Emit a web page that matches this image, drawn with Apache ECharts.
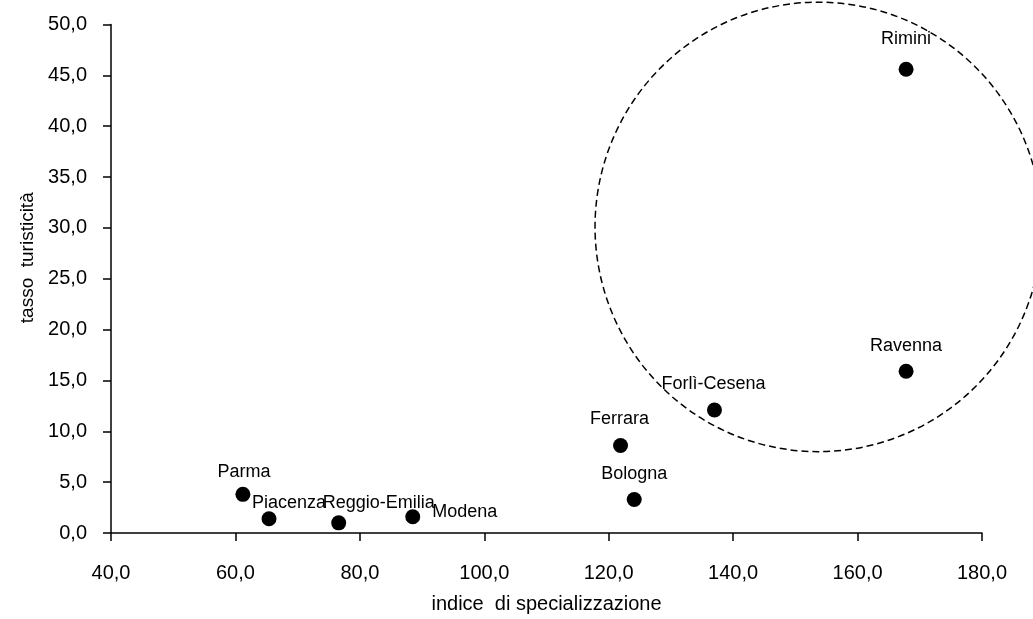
<!DOCTYPE html>
<html>
<head>
<meta charset="utf-8">
<script src="https://cdn.jsdelivr.net/npm/echarts@6/dist/echarts.min.js"></script>
<style>
html,body{margin:0;padding:0;background:#fff;}
#chart{width:1033px;height:619px;}
</style>
</head>
<body>
<div id="chart"></div>
<script>
// ---- data ----
const provinces = ['Parma','Piacenza','Reggio-Emilia','Modena','Ferrara','Bologna','Forlì-Cesena','Ravenna','Rimini'];
const specializationIndex = [61.2, 65.4, 76.6, 88.5, 121.9, 124.1, 137.0, 167.8, 167.8];
const tourismRate = [3.8, 1.4, 1.0, 1.6, 8.6, 3.3, 12.1, 15.9, 45.6];
// highlighted cluster (dashed ellipse): centre and half-axes in data units
const clusterCenter = [153.7, 30.1];
const clusterRadii = [35.9, 22.1];
const xTitle = 'indice  di specializzazione';
const yTitle = 'tasso  turisticità';

// ---- styles ----
const FONT = "'Liberation Sans',Arial,sans-serif";
const labelOffsets = {
  'Parma': [1, -22],
  'Piacenza': [20, -16],
  'Reggio-Emilia': [40, -20],
  'Modena': [52, -5],
  'Ferrara': [-1, -27],
  'Bologna': [0, -25],
  'Forlì-Cesena': [-1, -26],
  'Ravenna': [0, -25],
  'Rimini': [0, -30]
};

const points = provinces.map((n, i) => ({
  name: n,
  value: [specializationIndex[i], tourismRate[i]],
  label: { offset: labelOffsets[n] }
}));

const fmt = v => v.toFixed(1).replace('.', ',');

const chart = echarts.init(document.getElementById('chart'), null, {renderer: 'canvas'});
chart.setOption({
  backgroundColor: '#fff',
  animation: false,
  grid: { left: 111, right: 51, top: 24.5, bottom: 83, containLabel: false },
  xAxis: {
    type: 'value', min: 40, max: 180, interval: 20,
    name: xTitle, nameLocation: 'middle', nameGap: 61,
    nameTextStyle: { fontFamily: FONT, fontSize: 20, color: '#000' },
    axisLine: { show: true, onZero: false, lineStyle: { color: '#000', width: 1.5 } },
    axisTick: { show: true, inside: false, length: 8, lineStyle: { color: '#000', width: 1.5 } },
    axisLabel: { fontFamily: FONT, fontSize: 20, color: '#000', margin: 30, formatter: fmt },
    splitLine: { show: false }
  },
  yAxis: {
    type: 'value', min: 0, max: 50, interval: 5,
    name: yTitle, nameLocation: 'middle', nameGap: 69, nameRotate: 90,
    nameTextStyle: { fontFamily: FONT, fontSize: 19, color: '#000', padding: [0, 0, 0, 42] },
    axisLine: { show: true, onZero: false, lineStyle: { color: '#000', width: 1.5 } },
    axisTick: { show: true, inside: false, length: 8, lineStyle: { color: '#000', width: 1.5 } },
    axisLabel: { fontFamily: FONT, fontSize: 20, color: '#000', margin: 24, formatter: fmt },
    splitLine: { show: false }
  },
  series: [
    {
      type: 'custom',
      clip: false,
      silent: true,
      z: 1,
      data: [clusterCenter],
      encode: { x: 0, y: 1 },
      renderItem: function (params, api) {
        const c = api.coord([clusterCenter[0], clusterCenter[1]]);
        const s = api.size([clusterRadii[0], clusterRadii[1]]);
        return {
          type: 'circle',
          x: c[0], y: c[1],
          scaleX: s[0] / s[1],
          shape: { cx: 0, cy: 0, r: s[1] },
          style: { fill: 'none', stroke: '#000', lineWidth: 1.5, lineDash: [7, 4] }
        };
      }
    },
    {
      type: 'scatter',
      z: 3,
      symbol: 'circle',
      symbolSize: 15,
      itemStyle: { color: '#000', opacity: 1 },
      label: {
        show: true,
        position: 'inside',
        formatter: p => p.name,
        fontFamily: FONT, fontSize: 18, color: '#000',
        textBorderWidth: 0
      },
      data: points
    }
  ]
});
</script>
</body>
</html>
